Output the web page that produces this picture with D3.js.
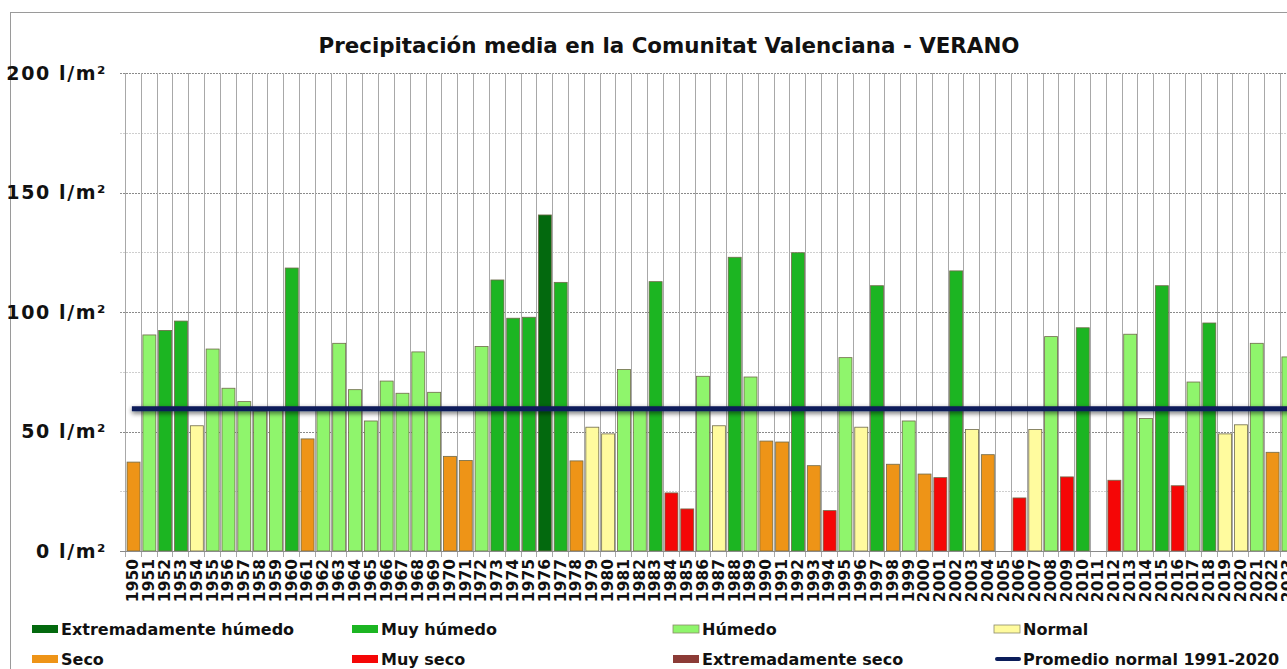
<!DOCTYPE html>
<html>
<head>
<meta charset="utf-8">
<script src="https://cdn.jsdelivr.net/npm/d3@7"></script>
<style>
  body { margin: 0; background: #fff; overflow: hidden; }
  svg { display: block; font-family: "DejaVu Sans", Verdana, sans-serif; font-weight: bold; }
</style>
</head>
<body>
<div id="chart"></div>
<script>
// years shown on the x axis
var years = d3.range(1950, 2024).map(String);

// summer precipitation (l/m2), null = no bar
var values = [
  37.2, 90.4, 92.3, 96.2, 52.4, 84.5, 68.1, 62.5, 58.6, 59.0,
  118.4, 46.9, 59.2, 86.9, 67.5, 54.4, 71.1, 66.0, 83.3, 66.4,
  39.6, 37.9, 85.6, 113.4, 97.4, 97.8, 140.6, 112.4, 37.7, 51.8,
  49.0, 75.9, 59.2, 112.7, 24.3, 17.6, 73.1, 52.4, 122.9, 72.8,
  46.0, 45.6, 124.8, 35.7, 16.9, 80.9, 51.8, 111.0, 36.3, 54.4,
  32.2, 30.7, 117.2, 50.8, 40.3, null, 22.2, 50.8, 89.7, 31.0,
  93.4, null, 29.6, 90.7, 55.4, 111.0, 27.3, 70.7, 95.4, 49.0,
  52.8, 86.9, 41.3, 81.2
];

// character of each summer: EH, MH, H, N, S, MS, ES
var classes = [
  "S", "H", "MH", "MH", "N", "H", "H", "H", "H", "H",
  "MH", "S", "H", "H", "H", "H", "H", "H", "H", "H",
  "S", "S", "H", "MH", "MH", "MH", "EH", "MH", "S", "N",
  "N", "H", "H", "MH", "MS", "MS", "H", "N", "MH", "H",
  "S", "S", "MH", "S", "MS", "H", "N", "MH", "S", "H",
  "S", "MS", "MH", "N", "S", "", "MS", "N", "H", "MS",
  "MH", "", "MS", "H", "H", "MH", "MS", "H", "MH", "N",
  "N", "H", "S", "H"
];

var promedio = 59.5;

var yTicks = [0, 50, 100, 150, 200];
var yMinor = [25, 75, 125, 175];

var legendKeys = ["EH", "MH", "H", "N", "S", "MS", "ES", "P"];
var legendLabels = ["Extremadamente húmedo", "Muy húmedo", "Húmedo", "Normal",
                    "Seco", "Muy seco", "Extremadamente seco", "Promedio normal 1991-2020"];

var colors = {
  EH: "#03690e", MH: "#1cb522", H: "#8ff56c", N: "#fffb9e",
  S: "#ee9417", MS: "#f50606", ES: "#8c3b36", P: "#0b1d5a"
};

var W = 1287, H = 669;

var svg = d3.select("#chart").append("svg")
    .attr("width", W)
    .attr("height", H);

var defs = svg.append("defs");
var f = defs.append("filter").attr("id", "shadow")
    .attr("filterUnits", "userSpaceOnUse")
    .attr("x", 0).attr("y", 380).attr("width", W + 40).attr("height", 60);
f.append("feGaussianBlur").attr("in", "SourceAlpha").attr("stdDeviation", 2.5).attr("result", "b");
f.append("feOffset").attr("in", "b").attr("dy", 2).attr("result", "o");
f.append("feComponentTransfer").attr("in", "o").attr("result", "s")
  .append("feFuncA").attr("type", "linear").attr("slope", 0.6);
var fm = f.append("feMerge");
fm.append("feMergeNode").attr("in", "s");
fm.append("feMergeNode").attr("in", "SourceGraphic");

// frame
svg.append("line").attr("x1", 10).attr("x2", W).attr("y1", 12.5).attr("y2", 12.5)
   .attr("stroke", "#9a9a9a").attr("stroke-width", 1);
svg.append("line").attr("x1", 10.5).attr("x2", 10.5).attr("y1", 12).attr("y2", H)
   .attr("stroke", "#9a9a9a").attr("stroke-width", 1);

// title
svg.append("text")
    .attr("x", 669).attr("y", 53)
    .attr("text-anchor", "middle")
    .style("font-size", "21.4px")
    .attr("fill", "#111")
    .text("Precipitación media en la Comunitat Valenciana - VERANO");

var x = d3.scaleBand()
    .domain(years)
    .range([125, 125 + years.length * 15.82])
    .padding(0);

var y = d3.scaleLinear()
    .domain([0, 200])
    .range([551, 73]);

// horizontal grid
svg.append("g").selectAll("line").data(yMinor).enter().append("line")
    .attr("x1", 120).attr("x2", W)
    .attr("y1", function (d) { return Math.round(y(d)) + 0.5; })
    .attr("y2", function (d) { return Math.round(y(d)) + 0.5; })
    .attr("stroke", "#cfcfcf").attr("stroke-dasharray", "2,1");

svg.append("g").selectAll("line").data(yTicks.slice(1)).enter().append("line")
    .attr("x1", 120).attr("x2", W)
    .attr("y1", function (d) { return Math.round(y(d)) + 0.5; })
    .attr("y2", function (d) { return Math.round(y(d)) + 0.5; })
    .attr("stroke", "#8a8a8a").attr("stroke-dasharray", "2,1");

// vertical grid
var edges = years.map(function (d) { return x(d); });
svg.append("g").selectAll("line").data(edges).enter().append("line")
    .attr("x1", function (d) { return Math.round(d) + 0.5; })
    .attr("x2", function (d) { return Math.round(d) + 0.5; })
    .attr("y1", y(200)).attr("y2", 557)
    .attr("stroke", "#a8a8a8");

// y labels
svg.append("g").selectAll("text").data(yTicks).enter().append("text")
    .attr("x", 107)
    .attr("y", function (d) { return y(d) + 6.5; })
    .attr("text-anchor", "end")
    .style("font-size", "19px")
    .style("letter-spacing", "1.6px")
    .attr("fill", "#111")
    .text(function (d) { return d + " l/m²"; });

// bars
var bw = x.bandwidth();
var barData = years.map(function (d, i) { return { year: d, v: values[i], c: classes[i] }; })
    .filter(function (d) { return d.v !== null; });

svg.append("g").selectAll("rect").data(barData).enter().append("rect")
    .attr("x", function (d) { return x(d.year) + bw * 0.13; })
    .attr("width", bw * 0.82)
    .attr("y", function (d) { return y(d.v); })
    .attr("height", function (d) { return y(0) - y(d.v); })
    .attr("fill", function (d) { return colors[d.c]; })
    .attr("stroke", "#6f6a4a")
    .attr("stroke-width", 0.8);

// axis line
svg.append("line").attr("x1", 120).attr("x2", W)
    .attr("y1", y(0) + 0.5).attr("y2", y(0) + 0.5)
    .attr("stroke", "#8a8a8a");

// x labels
svg.append("g").selectAll("text").data(years).enter().append("text")
    .attr("transform", function (d) {
        return "translate(" + (x(d) + bw / 2 + 5.5) + ",559) rotate(-90)";
    })
    .attr("text-anchor", "end")
    .style("font-size", "15.5px")
    .attr("fill", "#111")
    .text(function (d) { return d; });

// promedio line
svg.append("line")
    .attr("x1", x(years[0]) + bw / 2 - 1)
    .attr("x2", W + 20)
    .attr("y1", y(promedio)).attr("y2", y(promedio))
    .attr("stroke", colors.P)
    .attr("stroke-width", 5)
    .attr("filter", "url(#shadow)");

// legend
var legX = [32, 352, 673, 994];
var legY = [629, 659];
var leg = svg.append("g").selectAll("g").data(legendKeys).enter().append("g")
    .attr("transform", function (d, i) {
        return "translate(" + legX[i % 4] + "," + legY[Math.floor(i / 4)] + ")";
    });

leg.each(function (d) {
    var g = d3.select(this);
    if (d === "P") {
        g.append("line").attr("x1", 3).attr("x2", 25).attr("y1", 0).attr("y2", 0)
            .attr("stroke", colors.P).attr("stroke-width", 4).attr("stroke-linecap", "round");
    } else {
        g.append("rect").attr("x", 0).attr("y", -4).attr("width", 26).attr("height", 8)
            .attr("fill", colors[d])
            .attr("stroke", d === "N" || d === "H" ? "#8a8a6a" : "none")
            .attr("stroke-width", 0.8);
    }
});

leg.append("text")
    .attr("x", 29).attr("y", 6)
    .style("font-size", "16px")
    .attr("fill", "#111")
    .text(function (d, i) { return legendLabels[i]; });
</script>
</body>
</html>
